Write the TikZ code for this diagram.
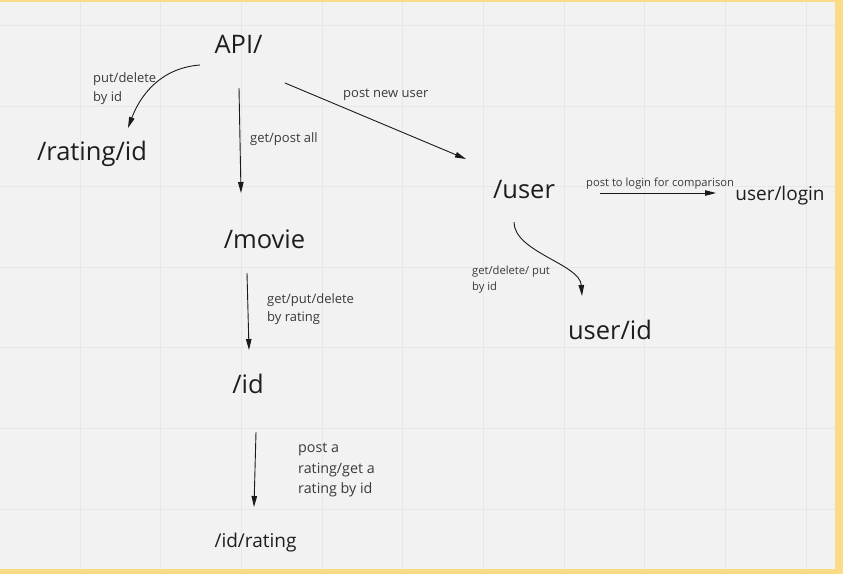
\documentclass[tikz,border=0pt]{standalone}
\usepackage{fontspec}
\setmainfont{Open Sans}
\usetikzlibrary{arrows.meta}
\definecolor{bgc}{HTML}{F2F2F2}
\definecolor{gridc}{HTML}{E7E7E7}
\definecolor{frame}{HTML}{FCDB87}
\definecolor{txt}{HTML}{1E1E1E}
\definecolor{lbltxt}{HTML}{3A3A3A}
\definecolor{linec}{HTML}{1A1A1A}
\newcommand\stackedlines[2]{\vtop{\baselineskip=#1\relax #2}}
\begin{document}
\begin{tikzpicture}[x=1pt,y=-1pt,
  big/.style={anchor=base, inner sep=0pt, text=txt, font=\fontsize{25.5}{30}\selectfont},
  mid/.style={anchor=base, inner sep=0pt, text=txt, font=\fontsize{19}{23}\selectfont},
  lbl/.style={anchor=base west, inner sep=0pt, text=lbltxt},
  arr/.style={draw=linec, line width=0.9pt, -{Triangle[length=11pt,width=5.5pt]}}]
% background and frame
\fill[frame] (0,0) rectangle (843,574);
\useasboundingbox (0,0) rectangle (843,574);
\fill[bgc] (0,2) rectangle (835,569);
\foreach \gx in {80,160.7,241.4,322.1,402.8,483.5,564.2,644.9,725.6,806.3}
  \draw[gridc, line width=1pt] (\gx,2) -- (\gx,569);
\foreach \gy in {25.5,106.1,186.7,267.3,347.9,428.5,509.1}
  \draw[gridc, line width=1pt] (0,\gy) -- (835,\gy);
% nodes
\node[big] (api) at (238.5,53) {API/};
\node[big] (rating) at (92,160) {/rating/id};
\node[big] (movie) at (264.5,248) {/movie};
\node[big] (id) at (248,393) {/id};
\node[mid] (idrating) at (255.5,547) {/id/rating};
\node[big] (user) at (524,198) {/user};
\node[mid] (login) at (780,200) {user/login};
\node[big] (userid) at (610,339) {user/id};
% labels
\node[lbl, font=\fontsize{13}{19}\selectfont] (l1) at (93,82)
  {\stackedlines{19pt}{\hbox{put/delete}\hbox{by id}}};
\node[lbl, font=\fontsize{13}{19}\selectfont] (l2) at (250,142.5) {get/post all};
\node[lbl, font=\fontsize{13}{19}\selectfont] (l3) at (343,97.3) {post new user};
\node[lbl, font=\fontsize{11.2}{15}\selectfont] (l4) at (586,186) {post to login for comparison};
\node[lbl, font=\fontsize{11.2}{16}\selectfont] (l5) at (472,274.5)
  {\stackedlines{16pt}{\hbox{get/delete/ put}\hbox{by id}}};
\node[lbl, font=\fontsize{13}{18}\selectfont] (l6) at (267,303.3)
  {\stackedlines{17.7pt}{\hbox{get/put/delete}\hbox{by rating}}};
\node[lbl, font=\fontsize{14.3}{20}\selectfont] (l7) at (298,452.7)
  {\stackedlines{20.3pt}{\hbox{post a}\hbox{rating/get a}\hbox{rating by id}}};
% connectors
\draw[arr] ([shift={(-38.5,12)}]api.base) .. controls +(-40,3) and +(12,-32) .. ([shift={(36,-32)}]rating.base);
\draw[arr] ([shift={(0.5,35)}]api.base) -- ([shift={(-23.5,-55)}]movie.base);
\draw[arr] ([shift={(46.5,30)}]api.base) -- ([shift={(-58,-39)}]user.base);
\draw[arr] ([shift={(76,-5)}]user.base) -- ([shift={(-64,-7)}]login.base);
\draw[arr] ([shift={(-10,24)}]user.base) .. controls +(0,30) and +(-2,-32) .. ([shift={(-28,-43)}]userid.base);
\draw[arr] ([shift={(-17.5,25)}]movie.base) -- ([shift={(1,-43)}]id.base);
\draw[arr] ([shift={(8,39)}]id.base) -- ([shift={(-1.5,-40)}]idrating.base);
\end{tikzpicture}
\end{document}
